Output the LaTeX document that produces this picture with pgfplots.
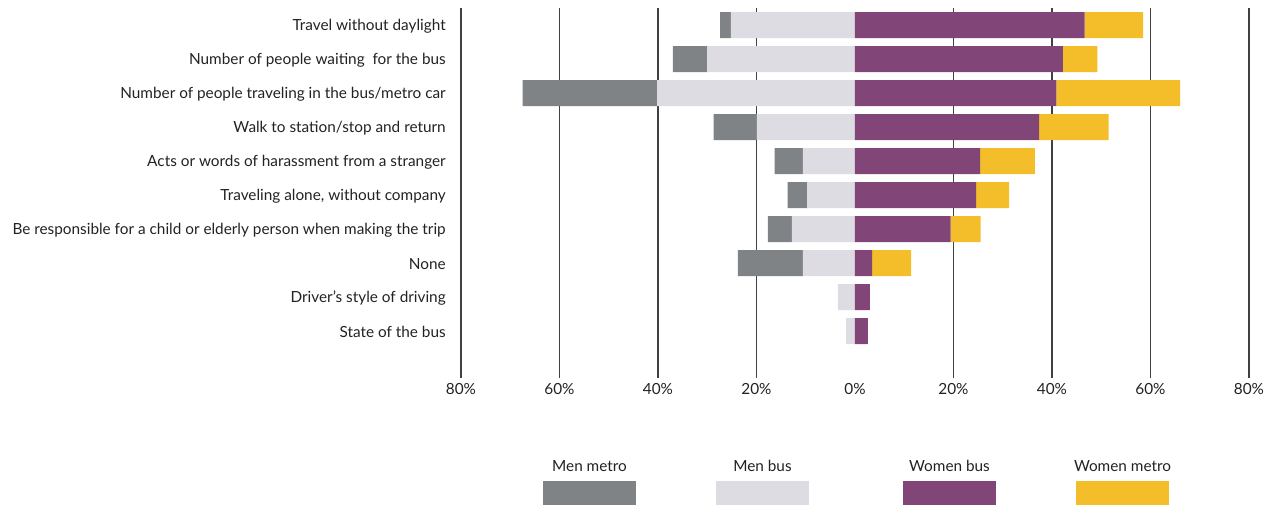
\documentclass[border=0pt]{standalone}
\usepackage{fontspec}
\setmainfont{Lato}
\usepackage{pgfplots}
\pgfplotsset{compat=1.18}
\definecolor{menmetro}{HTML}{7F8386}
\definecolor{menbus}{HTML}{DCDCE2}
\definecolor{womenbus}{HTML}{824577}
\definecolor{womenmetro}{HTML}{F4BE2A}
\definecolor{txt}{HTML}{222222}
\pgfplotsset{base/.style={
  scale only axis, width=591pt, height=277.5pt,
  at={(0,0)}, anchor=south west,
  xbar stacked, bar width=19.5pt,
  xmin=-80, xmax=80, ymin=-0.5, ymax=10.38, y dir=reverse,
  axis line style={draw=none}, tick style={draw=none},
  every axis plot/.append style={draw=none},
  tick label style={font=\fontsize{11.5pt}{13pt}\selectfont, text=txt},
}}
\begin{document}
\begin{tikzpicture}
\begin{axis}[base, name=ax,
  ytick={0,...,9},
  yticklabels={Travel without daylight, Number of people waiting\ \ for the bus, Number of people traveling in the bus/metro car, Walk to station/stop and return, Acts or words of harassment from a stranger, {Traveling alone, without company}, Be responsible for a child or elderly person when making the trip, None, Driver's style of driving, State of the bus},
  yticklabel style={inner sep=0pt, xshift=-11.25pt, yshift=-1pt},
  xtick={-80,-60,-40,-20,20,40,60,80},
  xticklabels={80\%,60\%,40\%,20\%,20\%,40\%,60\%,80\%},
  extra x ticks={0}, extra x tick labels={0\%},
  extra x tick style={grid=none},
  xticklabel style={inner sep=0pt, yshift=-4pt},
  xmajorgrids, grid style={black!75, line width=0.85pt},
]
\addplot[fill=menbus] coordinates {(-25.2,0) (-30.0,1) (-40.2,2) (-19.9,3) (-10.6,4) (-9.7,5) (-12.8,6) (-10.6,7) (-3.5,8) (-1.8,9)};
\addplot[fill=menmetro] coordinates {(-2.2,0) (-7.0,1) (-27.3,2) (-8.8,3) (-5.7,4) (-4.0,5) (-4.9,6) (-13.2,7) (0,8) (0,9)};
\end{axis}
\begin{axis}[base, xtick=\empty, ytick=\empty]
\addplot[fill=womenbus] coordinates {(46.6,0) (42.2,1) (40.9,2) (37.4,3) (25.4,4) (24.6,5) (19.4,6) (3.5,7) (3.0,8) (2.6,9)};
\addplot[fill=womenmetro] coordinates {(11.9,0) (7.0,1) (25.1,2) (14.1,3) (11.1,4) (6.7,5) (6.1,6) (7.9,7) (0,8) (0,9)};
\end{axis}
\begin{scope}[shift={(ax.south west)}, x=0.75pt, y=0.75pt, every node/.style={font=\fontsize{11.5pt}{13pt}\selectfont, text=txt}]
\fill[menmetro] (82,-103) rectangle (175,-127);
\fill[menbus] (255,-103) rectangle (348,-127);
\fill[womenbus] (442,-103) rectangle (535,-127);
\fill[womenmetro] (615,-103) rectangle (708,-127);
\node at (128.5,-88) {Men metro};
\node at (301.5,-88) {Men bus};
\node at (488.5,-88) {Women bus};
\node at (661.5,-88) {Women metro};
\pgfresetboundingbox
\path (-461,-128) rectangle (814,378);
\end{scope}
\end{tikzpicture}
\end{document}
